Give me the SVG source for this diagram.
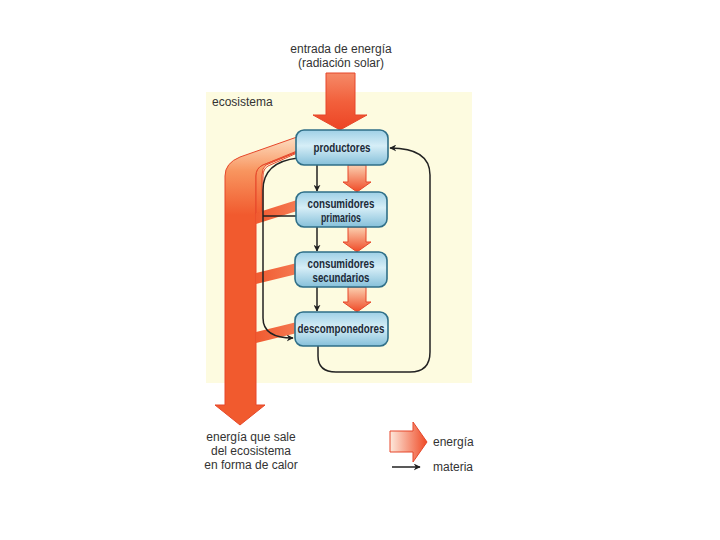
<svg xmlns="http://www.w3.org/2000/svg" width="720" height="540" viewBox="0 0 720 540">
<style>
.t{font-family:"Liberation Sans",Arial,sans-serif;font-size:12px;fill:#333}
.n{font-family:"Liberation Sans",Arial,sans-serif;font-size:13px;font-weight:bold;fill:#1c2a38}
.box{fill:url(#boxg);stroke:#2f6f88;stroke-width:1.6}
.mat{fill:none;stroke:#222;stroke-width:1.5}
.en{stroke:#e6472a;stroke-width:1}
</style>
<defs>
<linearGradient id="boxg" x1="0" y1="0" x2="0" y2="1">
<stop offset="0" stop-color="#9fd0e6"/>
<stop offset="0.45" stop-color="#d6eef7"/>
<stop offset="1" stop-color="#86c0da"/>
</linearGradient>
<linearGradient id="shaftg" gradientUnits="userSpaceOnUse" x1="0" y1="135" x2="0" y2="215">
<stop offset="0" stop-color="#fde2c8"/>
<stop offset="0.45" stop-color="#f8955f"/>
<stop offset="1" stop-color="#f15a2e"/>
</linearGradient>
<linearGradient id="vg" x1="0" y1="0" x2="0" y2="1">
<stop offset="0" stop-color="#fbd0b0"/>
<stop offset="1" stop-color="#ef4a26"/>
</linearGradient>
<linearGradient id="topg" x1="0" y1="0" x2="0" y2="1">
<stop offset="0" stop-color="#f58a68"/>
<stop offset="0.5" stop-color="#f2603c"/>
<stop offset="1" stop-color="#ec4424"/>
</linearGradient>
<linearGradient id="hg" x1="0" y1="0" x2="1" y2="0">
<stop offset="0" stop-color="#fde9dc"/>
<stop offset="1" stop-color="#ef4a26"/>
</linearGradient>
<linearGradient id="bandg" x1="1" y1="0" x2="0" y2="0">
<stop offset="0" stop-color="#f57a52"/>
<stop offset="1" stop-color="#f05a30"/>
</linearGradient>
<marker id="ah" viewBox="0 0 10 10" refX="9" refY="5" markerWidth="7" markerHeight="7" markerUnits="userSpaceOnUse" orient="auto">
<path d="M0,0 L10,5 L0,10 L3,5 Z" fill="#222"/>
</marker>
</defs>

<rect x="206" y="92" width="266" height="291" fill="#fdfbe0"/>
<text class="t" x="212" y="106">ecosistema</text>
<text class="t" x="341" y="53" text-anchor="middle">entrada de energía</text>
<text class="t" x="341" y="67" text-anchor="middle">(radiación solar)</text>

<g id="energy">
<path class="en" d="M326,73 L355,73 L355,115 L367,115 L340,130 L313,115 L326,115 Z" fill="url(#topg)"/>
<path class="en" d="M297,137 L240,157 Q225,163 225,176 L225,405 L215,405 L240,425 L265,405 L256,405 L256,176 Q256,168 263,165 L297,151 Z" fill="url(#shaftg)"/>
<path class="en" d="M297,152 L266,165 Q262,168 262,175 L262,212 L256,214 L256,176 Q256,168 263,165 Z" fill="url(#shaftg)" stroke-width="0.8"/>
<path d="M297,153 L268,166 Q263,169 263,176 L263,214 L256,216" fill="none" stroke="#e6472a" stroke-width="1"/>
<path d="M297,200 L256,213 L256,224 L297,211 Z" fill="url(#bandg)"/>
<path d="M297,263 L256,273 L256,284 L297,274 Z" fill="url(#bandg)"/>
<path d="M297,322 L256,332 L256,343 L297,333 Z" fill="url(#bandg)"/>
<path class="en" d="M348,165 L366,165 L366,182 L371,182 L357,192 L343,182 L348,182 Z" fill="url(#vg)"/>
<path class="en" d="M348,227 L366,227 L366,242 L371,242 L357,252 L343,242 L348,242 Z" fill="url(#vg)"/>
<path class="en" d="M348,287 L366,287 L366,302 L371,302 L357,312 L343,302 L348,302 Z" fill="url(#vg)"/>
</g>

<g id="connectors">
<line class="mat" x1="317" y1="165" x2="317" y2="191" marker-end="url(#ah)"/>
<line class="mat" x1="317" y1="227" x2="317" y2="251" marker-end="url(#ah)"/>
<line class="mat" x1="317" y1="287" x2="317" y2="311" marker-end="url(#ah)"/>
<path class="mat" d="M298,158 Q263,162 263,190 L263,318 Q263,338 293,338" marker-end="url(#ah)"/>
<line class="mat" x1="263" y1="216" x2="296" y2="216"/>
<path class="mat" d="M318,346 L318,356 Q318,372 336,372 L410,372 Q430,372 430,352 L430,175 Q430,148 390,148" marker-end="url(#ah)"/>
</g>

<g id="productores">
<rect class="box" x="296" y="130" width="92" height="35" rx="8"/>
<text class="n" x="342" y="152" text-anchor="middle" textLength="57" lengthAdjust="spacingAndGlyphs">productores</text>
</g>
<g id="consumidores-primarios">
<rect class="box" x="296" y="192" width="91" height="35" rx="8"/>
<text class="n" x="341" y="208" text-anchor="middle" textLength="67" lengthAdjust="spacingAndGlyphs">consumidores</text>
<text class="n" x="341" y="222" text-anchor="middle" textLength="40" lengthAdjust="spacingAndGlyphs">primarios</text>
</g>
<g id="consumidores-secundarios">
<rect class="box" x="295" y="252" width="92" height="35" rx="8"/>
<text class="n" x="341" y="268" text-anchor="middle" textLength="67" lengthAdjust="spacingAndGlyphs">consumidores</text>
<text class="n" x="341" y="282" text-anchor="middle" textLength="57" lengthAdjust="spacingAndGlyphs">secundarios</text>
</g>
<g id="descomponedores">
<rect class="box" x="295" y="312" width="93" height="34" rx="8"/>
<text class="n" x="341" y="333" text-anchor="middle" textLength="87" lengthAdjust="spacingAndGlyphs">descomponedores</text>
</g>

<g id="bottom-label">
<text class="t" x="251" y="441" text-anchor="middle">energía que sale</text>
<text class="t" x="251" y="455" text-anchor="middle">del ecosistema</text>
<text class="t" x="251" y="469" text-anchor="middle">en forma de calor</text>
</g>

<g id="legend">
<path d="M390,431 L413,431 L413,422 L427,442 L413,462 L413,452 L390,452 Z" fill="url(#hg)" stroke="#e6472a" stroke-width="1"/>
<text class="t" x="433" y="446">energía</text>
<line class="mat" x1="392" y1="467" x2="420" y2="467" marker-end="url(#ah)"/>
<text class="t" x="433" y="471">materia</text>
</g>
</svg>
